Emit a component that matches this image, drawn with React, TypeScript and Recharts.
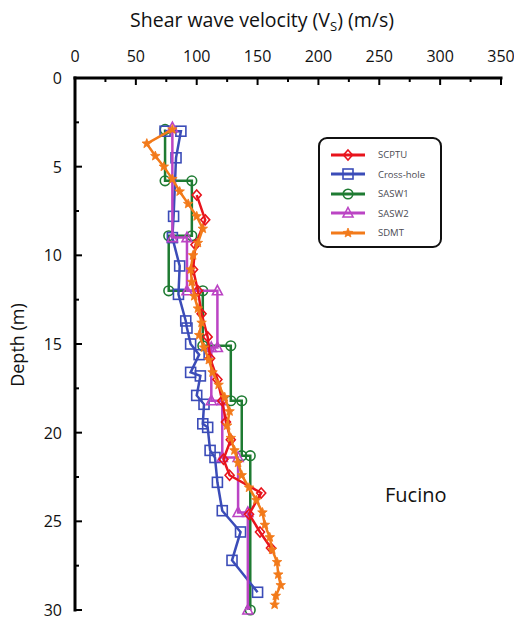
import React from 'react';
import { ScatterChart, Scatter, XAxis, YAxis, Legend, Label } from 'recharts';

const velocityTicks = [0, 25, 50, 75, 100, 125, 150, 175, 200, 225, 250, 275, 300, 325, 350];
const depthTicks = [0, 2.5, 5, 7.5, 10, 12.5, 15, 17.5, 20, 22.5, 25, 27.5, 30];

const scptu = [
  { v: 100, d: 6.6 }, { v: 107, d: 8.0 }, { v: 99, d: 9.4 }, { v: 97, d: 10.8 },
  { v: 101, d: 12.0 }, { v: 104, d: 13.3 }, { v: 109, d: 14.6 }, { v: 111, d: 15.8 },
  { v: 117, d: 17.0 }, { v: 121, d: 18.2 }, { v: 124, d: 19.4 }, { v: 128, d: 20.4 },
  { v: 122, d: 21.5 }, { v: 127, d: 22.4 }, { v: 153, d: 23.4 }, { v: 143, d: 24.6 },
  { v: 152, d: 25.6 }, { v: 161, d: 26.5 },
];

const crossHole = [
  { v: 74, d: 3.0 }, { v: 87, d: 3.0 }, { v: 83, d: 4.5 }, { v: 81, d: 7.8 },
  { v: 80, d: 9.0 }, { v: 86, d: 10.6 }, { v: 85, d: 12.2 }, { v: 91, d: 13.7 },
  { v: 92, d: 14.1 }, { v: 95, d: 15.0 }, { v: 102, d: 15.6 }, { v: 95, d: 16.6 },
  { v: 103, d: 16.8 }, { v: 100, d: 17.9 }, { v: 106, d: 18.4 }, { v: 105, d: 19.5 },
  { v: 109, d: 19.7 }, { v: 111, d: 21.0 }, { v: 115, d: 21.4 }, { v: 117, d: 22.8 },
  { v: 121, d: 24.4 }, { v: 136, d: 25.6 }, { v: 129, d: 27.2 }, { v: 150, d: 29.0 },
];

const sasw1 = [
  { v: 74, d: 2.9 }, { v: 74, d: 5.8 }, { v: 96, d: 5.8 }, { v: 96, d: 8.9 },
  { v: 77, d: 8.9 }, { v: 77, d: 12.0 }, { v: 105, d: 12.0 }, { v: 105, d: 15.1 },
  { v: 128, d: 15.1 }, { v: 128, d: 18.2 }, { v: 137, d: 18.2 }, { v: 137, d: 21.3 },
  { v: 144, d: 21.3 }, { v: 144, d: 30.0 },
];

const sasw2 = [
  { v: 80, d: 2.8 }, { v: 80, d: 9.0 }, { v: 92, d: 9.0 }, { v: 92, d: 12.0 },
  { v: 117, d: 12.0 }, { v: 117, d: 15.2 }, { v: 112, d: 15.2 }, { v: 112, d: 18.2 },
  { v: 121, d: 18.2 }, { v: 121, d: 21.4 }, { v: 134, d: 21.4 }, { v: 134, d: 24.5 },
  { v: 142, d: 24.5 }, { v: 142, d: 30.0 },
];

const sdmt = [
  { v: 80, d: 2.9 }, { v: 59, d: 3.7 }, { v: 66, d: 4.4 }, { v: 73, d: 5.0 },
  { v: 80, d: 5.7 }, { v: 86, d: 6.4 }, { v: 93, d: 7.1 }, { v: 100, d: 7.8 },
  { v: 105, d: 8.5 }, { v: 101, d: 9.3 }, { v: 97, d: 10.0 }, { v: 95, d: 10.8 },
  { v: 96, d: 11.5 }, { v: 98, d: 12.3 }, { v: 101, d: 13.0 }, { v: 104, d: 13.8 },
  { v: 102, d: 14.5 }, { v: 106, d: 15.2 }, { v: 110, d: 15.9 }, { v: 113, d: 16.6 },
  { v: 118, d: 17.3 }, { v: 123, d: 18.0 }, { v: 127, d: 18.8 }, { v: 125, d: 19.6 },
  { v: 128, d: 20.3 }, { v: 131, d: 21.0 }, { v: 134, d: 21.7 }, { v: 137, d: 22.4 },
  { v: 143, d: 23.1 }, { v: 149, d: 23.8 }, { v: 154, d: 24.5 }, { v: 156, d: 25.2 },
  { v: 160, d: 25.9 }, { v: 162, d: 26.6 }, { v: 166, d: 27.3 }, { v: 167, d: 28.0 },
  { v: 169, d: 28.6 }, { v: 165, d: 29.2 }, { v: 164, d: 29.7 },
];

const seriesNames = ['SCPTU', 'Cross-hole', 'SASW1', 'SASW2', 'SDMT'];
const colors = {
  SCPTU: '#e8141c',
  'Cross-hole': '#3b4cb8',
  SASW1: '#1e7b32',
  SASW2: '#bb44c4',
  SDMT: '#f27a1a',
};

const FONT = '"Open Sans", sans-serif';
const X_MARGIN = 16;
const Y_MARGIN = 13;

function Marker({ kind, cx, cy, color }: { kind: string; cx: number; cy: number; color: string }) {
  if (cx == null || cy == null) return null;
  const sw = 1.6;
  switch (kind) {
    case 'SCPTU':
      return <polygon points={`${cx},${cy - 5} ${cx + 4.5},${cy} ${cx},${cy + 5} ${cx - 4.5},${cy}`} fill="none" stroke={color} strokeWidth={sw} />;
    case 'Cross-hole':
      return <rect x={cx - 5} y={cy - 5} width={10} height={10} fill="none" stroke={color} strokeWidth={sw} />;
    case 'SASW1':
      return <circle cx={cx} cy={cy} r={4.8} fill="none" stroke={color} strokeWidth={sw} />;
    case 'SASW2':
      return <polygon points={`${cx},${cy - 5.5} ${cx + 5},${cy + 4} ${cx - 5},${cy + 4}`} fill="none" stroke={color} strokeWidth={sw} />;
    default: {
      const pts: string[] = [];
      for (let i = 0; i < 10; i++) {
        const r = i % 2 === 0 ? 5 : 2.2;
        const a = -Math.PI / 2 + (i * Math.PI) / 5;
        pts.push(`${cx + r * Math.cos(a)},${cy + r * Math.sin(a)}`);
      }
      return <polygon points={pts.join(' ')} fill={color} stroke={color} strokeWidth={0.8} />;
    }
  }
}

const shapeFor = (kind: string) => (props: any) => (
  <Marker kind={kind} cx={props.cx} cy={props.cy} color={(colors as any)[kind]} />
);

const XTick = (props: any) => {
  const { x, y, payload } = props;
  const major = payload.value % 50 === 0;
  const axisY = y + X_MARGIN;
  return (
    <g>
      <line x1={x} x2={x} y1={axisY} y2={axisY + (major ? 7 : 4)} stroke="#000" strokeWidth={2} />
      {major && (
        <text x={x} y={y} textAnchor="middle" fontSize={16} fontFamily={FONT} fill="#111">
          {payload.value}
        </text>
      )}
    </g>
  );
};

const YTick = (props: any) => {
  const { x, y, payload } = props;
  const major = payload.value % 5 === 0;
  const axisX = x + Y_MARGIN;
  return (
    <g>
      <line x1={axisX} x2={axisX + (major ? 7 : 4)} y1={y} y2={y} stroke="#000" strokeWidth={2} />
      {major && (
        <text x={x} y={y + 6} textAnchor="end" fontSize={16} fontFamily={FONT} fill="#111">
          {payload.value}
        </text>
      )}
    </g>
  );
};

const LegendBox = () => (
  <div
    style={{
      width: 124,
      height: 111,
      border: '2px solid #111',
      borderRadius: 9,
      background: '#fff',
      boxSizing: 'border-box',
      paddingTop: 6,
    }}
  >
    {seriesNames.map((name) => (
      <div key={name} style={{ display: 'flex', alignItems: 'center', height: 19.5 }}>
        <svg width={58} height={14} style={{ flex: 'none' }}>
          <line x1={11} x2={45} y1={7} y2={7} stroke={(colors as any)[name]} strokeWidth={3} />
          <Marker kind={name} cx={28} cy={7} color={(colors as any)[name]} />
        </svg>
        <span style={{ fontFamily: FONT, fontSize: 9.5, color: '#4a4a52' }}>{name}</span>
      </div>
    ))}
  </div>
);

const TitleLabel = () => (
  <text x={262} y={27} textAnchor="middle" fontSize={19.5} fontFamily={FONT} fill="#111">
    Shear wave velocity (V
    <tspan fontSize={13} dy={4}>S</tspan>
    <tspan dy={-4}>) (m/s)</tspan>
  </text>
);

const DepthLabel = () => (
  <text x={24} y={345} transform="rotate(-90 24 345)" textAnchor="middle" fontSize={18} fontFamily={FONT} fill="#111">
    Depth (m)
  </text>
);

export default function App() {
  return (
    <div style={{ position: 'absolute', left: 0, top: 0, width: 514, height: 624, background: '#fff' }}>
      <ScatterChart width={514} height={624} margin={{ top: 38, left: 25, right: 13, bottom: 14 }}>
        <XAxis
          type="number"
          dataKey="v"
          orientation="top"
          domain={[0, 350]}
          ticks={velocityTicks}
          interval={0}
          height={40}
          tickSize={0}
          tickMargin={X_MARGIN}
          tick={<XTick />}
          axisLine={{ stroke: '#000', strokeWidth: 3, strokeLinecap: 'square' }}
        >
          <Label content={<TitleLabel />} />
        </XAxis>
        <YAxis
          type="number"
          dataKey="d"
          domain={[0, 30]}
          reversed
          ticks={depthTicks}
          interval={0}
          width={50}
          tickSize={0}
          tickMargin={Y_MARGIN}
          tick={<YTick />}
          axisLine={{ stroke: '#000', strokeWidth: 3, strokeLinecap: 'square' }}
        >
          <Label content={<DepthLabel />} />
        </YAxis>
        <Legend
          layout="vertical"
          align="center"
          verticalAlign="middle"
          content={<LegendBox />}
          wrapperStyle={{ position: 'absolute', left: 318, top: 137, width: 124, height: 111 }}
        />
        <Scatter name="SASW1" data={sasw1} line={{ stroke: colors.SASW1, strokeWidth: 2.5 }} lineType="joint" shape={shapeFor('SASW1')} isAnimationActive={false} />
        <Scatter name="Cross-hole" data={crossHole} line={{ stroke: colors['Cross-hole'], strokeWidth: 2.5 }} lineType="joint" shape={shapeFor('Cross-hole')} isAnimationActive={false} />
        <Scatter name="SASW2" data={sasw2} line={{ stroke: colors.SASW2, strokeWidth: 2.5 }} lineType="joint" shape={shapeFor('SASW2')} isAnimationActive={false} />
        <Scatter name="SCPTU" data={scptu} line={{ stroke: colors.SCPTU, strokeWidth: 2.5 }} lineType="joint" shape={shapeFor('SCPTU')} isAnimationActive={false} />
        <Scatter name="SDMT" data={sdmt} line={{ stroke: colors.SDMT, strokeWidth: 2.5 }} lineType="joint" shape={shapeFor('SDMT')} isAnimationActive={false} />
      </ScatterChart>
      <div
        style={{
          position: 'absolute',
          left: 385,
          top: 483,
          fontFamily: FONT,
          fontSize: 20,
          color: '#111',
          lineHeight: '24px',
        }}
      >
        Fucino
      </div>
    </div>
  );
}
